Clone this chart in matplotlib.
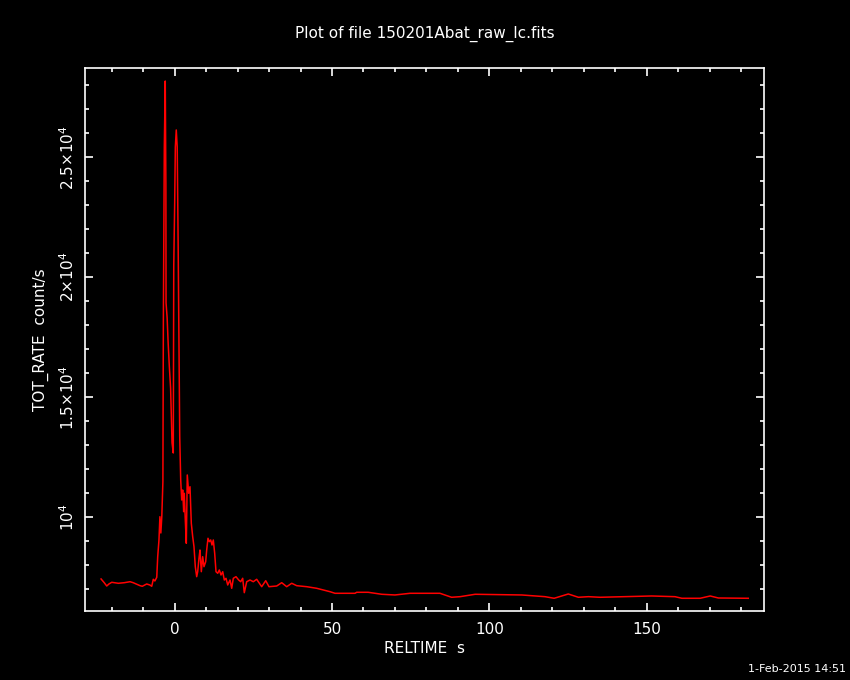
# Light curve plot, PGPLOT-style (black background)
import numpy as np
import matplotlib
matplotlib.use('Agg')
import matplotlib.pyplot as plt
from matplotlib.ticker import MultipleLocator

# data (RELTIME s, TOT_RATE count/s)
reltime = [-23.4, -22.4, -21.6, -20.9, -20.0, -17.9, -16.0, -14.2, -13.2, -11.0,
           -10.3, -8.9, -7.9, -7.3, -6.8, -6.3, -5.7, -5.4, -5.0, -4.7,
           -4.4, -4.1, -3.75, -3.6, -3.3, -3.0, -2.8, -2.75, -2.4, -2.1,
           -1.7, -1.3, -0.85, -0.45, -0.3, 0.0, 0.2, 0.5, 0.8, 1.1,
           1.4, 1.6, 1.91, 2.23, 2.54, 2.86, 3.05, 3.37, 3.69, 4.0,
           4.45, 4.86, 5.28, 5.72, 6.13, 6.55, 6.99, 7.31, 7.72, 8.04,
           8.46, 8.9, 9.31, 9.85, 10.17, 10.58, 11.0, 11.44, 11.86, 12.27,
           12.71, 13.13, 13.67, 14.18, 14.72, 15.26, 15.77, 16.31, 16.85, 17.58,
           18.12, 18.63, 19.48, 20.34, 20.98, 21.61, 22.12, 22.89, 23.94, 24.98,
           26.06, 27.65, 28.93, 29.97, 32.42, 34.01, 35.6, 37.19, 38.78, 41.96,
           45.14, 49.36, 50.95, 57.3, 57.85, 61.5, 65.8, 70.0, 72.7, 74.8,
           84.3, 88.0, 90.7, 95.5, 110.3, 117.7, 120.6, 125.1, 128.3, 131.5,
           135.2, 151.6, 159.0, 161.2, 167.0, 170.2, 172.8, 182.3]
tot_rate = [7430, 7275, 7137, 7221, 7291, 7250, 7275, 7316, 7275, 7150,
            7125, 7221, 7179, 7125, 7416, 7346, 7500, 8358, 9054, 10025,
            9346, 10025, 11480, 18220, 25430, 28180, 23890, 18940, 18305, 17320,
            16270, 15380, 13108, 12680, 20470, 23140, 25430, 26140, 25430, 21310,
            16230, 13360, 11554, 10721, 11138, 10233, 11000, 9887, 8917, 11763,
            11000, 11275, 9750, 9192, 8775, 7942, 7525, 7733, 8292, 8637,
            7733, 8358, 7942, 8150, 8637, 9125, 8983, 9054, 8846, 9054,
            8500, 7733, 7667, 7804, 7596, 7733, 7387, 7458, 7179, 7387,
            7041, 7458, 7525, 7387, 7316, 7458, 6858, 7316, 7387, 7316,
            7416, 7108, 7358, 7108, 7137, 7275, 7108, 7250, 7150, 7108,
            7041, 6900, 6833, 6833, 6875, 6875, 6792, 6763, 6800, 6833,
            6833, 6667, 6692, 6792, 6763, 6692, 6625, 6804, 6667, 6692,
            6667, 6721, 6692, 6625, 6625, 6721, 6637, 6625]

ytick_vals = [10000, 15000, 20000, 25000]
ytick_labels = [r'$10^4$', r'$1.5{\times}10^4$', r'$2{\times}10^4$', r'$2.5{\times}10^4$']

fig = plt.figure(figsize=(8.5, 6.8), dpi=100, facecolor='black')
ax = fig.add_axes([0.1004, 0.1015, 0.7988, 0.798], facecolor='black')

ax.plot(reltime, tot_rate, color='#ff0000', lw=1.1)

ax.set_xlim(-28.4, 187.4)
ax.set_ylim(6096, 28708)

ax.xaxis.set_major_locator(MultipleLocator(50))
ax.xaxis.set_minor_locator(MultipleLocator(10))
ax.set_yticks(ytick_vals)
ax.set_yticklabels(ytick_labels, rotation=90, va='center')
ax.yaxis.set_minor_locator(MultipleLocator(1000))

for s in ax.spines.values():
    s.set_color('white')
    s.set_linewidth(1.2)

ax.tick_params(which='both', direction='in', top=True, right=True, colors='white',
               labelsize=11)
ax.tick_params(which='major', length=6, width=1.2)
ax.tick_params(which='minor', length=3, width=1.2)
ax.tick_params(axis='x', pad=8)
ax.tick_params(axis='y', pad=6)

ax.set_xlabel('RELTIME  s', color='white', fontsize=11, labelpad=3)
ax.set_ylabel('TOT_RATE  count/s', color='white', fontsize=11, labelpad=7)
ax.set_title('Plot of file 150201Abat_raw_lc.fits', color='white', fontsize=11, pad=22)

fig.text(0.995, 0.016, '1-Feb-2015 14:51', color='white', fontsize=8, ha='right', va='center')

fig.savefig('out.png', dpi=100, facecolor='black')
